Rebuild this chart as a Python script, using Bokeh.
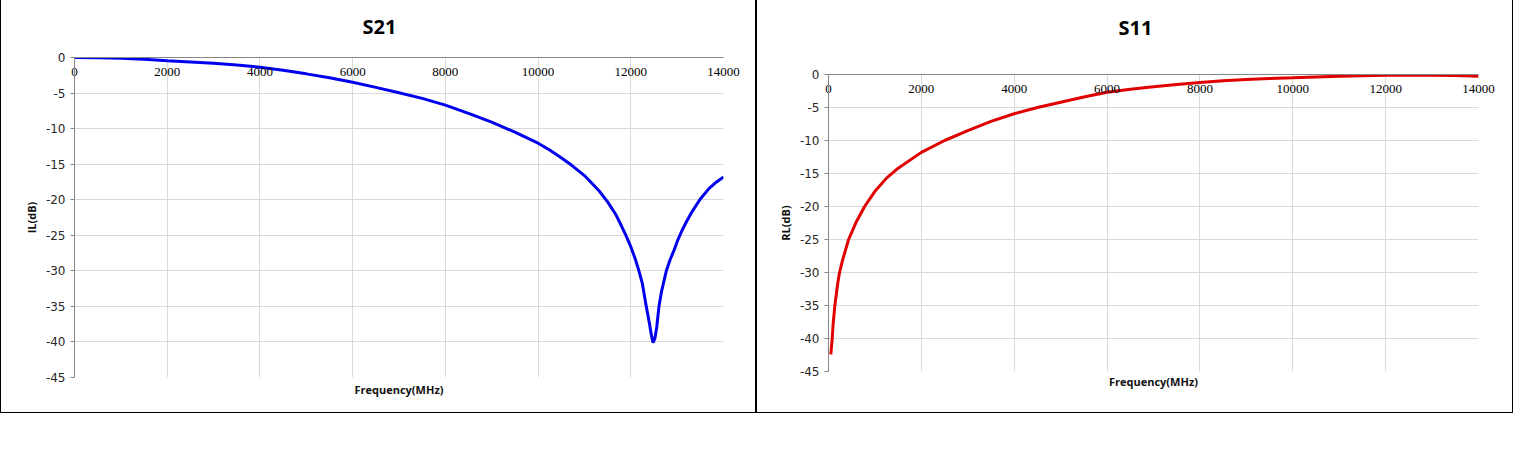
from bokeh.plotting import figure
from bokeh.models import Range1d, LinearAxis, FixedTicker
from bokeh.embed import file_html
from bokeh.resources import INLINE

# ---- data ----
s21_freq = [0, 500, 1000, 1500, 2000, 2500, 3000, 3500, 4000, 4500, 5000, 5500,
            6000, 6500, 7000, 7500, 8000, 8500, 9000, 9500, 10000, 10250, 10500,
            10733, 11000, 11310, 11500, 11670, 11800, 11900, 12000, 12100, 12176,
            12250, 12334, 12400, 12440, 12480, 12520, 12560, 12608, 12660, 12720,
            12767, 12850, 12933, 13006, 13100, 13200, 13330, 13500, 13690, 13850, 14000]
s21_db = [0, -0.03, -0.1, -0.25, -0.45, -0.62, -0.82, -1.07, -1.36, -1.8, -2.3, -2.85,
          -3.47, -4.2, -4.95, -5.75, -6.7, -7.85, -9.1, -10.5, -12.05, -13.0, -14.1,
          -15.2, -16.6, -18.7, -20.3, -22.0, -23.7, -25.1, -26.6, -28.4, -30.0,
          -31.8, -35.0, -37.3, -38.9, -40.1, -39.5, -37.9, -35.0, -33.0, -31.3,
          -30.0, -28.4, -27.1, -25.8, -24.4, -23.1, -21.6, -19.9, -18.4, -17.5, -16.8]

s11_freq = [50, 80, 100, 137, 200, 238, 300, 433, 600, 778, 1000, 1250, 1500, 2000,
            2500, 3000, 3500, 4000, 4500, 5000, 5500, 6000, 6500, 7000, 7500, 8000,
            8500, 9000, 9500, 10000, 10500, 11000, 11500, 12000, 12500, 13000, 13500, 14000]
s11_db = [-42.4, -40.0, -37.8, -35.0, -31.6, -30.0, -28.2, -25.0, -22.3, -20.0, -17.7,
          -15.7, -14.2, -11.8, -10.0, -8.5, -7.1, -5.95, -5.0, -4.2, -3.4, -2.7, -2.25,
          -1.85, -1.5, -1.2, -0.95, -0.75, -0.6, -0.5, -0.38, -0.28, -0.2, -0.12, -0.1,
          -0.12, -0.17, -0.25]

x_ticks = [0, 2000, 4000, 6000, 8000, 10000, 12000, 14000]
x_tick_labels = ["0", "2000", "4000", "6000", "8000", "10000", "12000", "14000"]
y_ticks = [0, -5, -10, -15, -20, -25, -30, -35, -40, -45]
y_tick_labels = ["0", "-5", "-10", "-15", "-20", "-25", "-30", "-35", "-40", "-45"]

GRID = "#D9D9D9"
AXIS = "#868686"
SHIFT = 40  # the top edge of each chart box lies above the window, as in the reference


def make_chart(title, ylabel, freq, vals, color, width, left_px, mb_left, mb_right,
               mb_top, mb_bottom, title_offset, title_standoff, xlabel_standoff):
    p = figure(title=title, width=width, height=413 + SHIFT, output_backend="svg",
               toolbar_location=None,
               x_range=Range1d(0, 14000), y_range=Range1d(-45, 0),
               min_border_left=mb_left, min_border_right=mb_right,
               min_border_top=mb_top + SHIFT, min_border_bottom=mb_bottom,
               background_fill_color="white", border_fill_color="white")
    p.outline_line_color = None
    p.styles = {"border": "1px solid black", "position": "absolute",
                "left": f"{left_px}px", "top": f"{-SHIFT}px"}

    # grid
    p.xgrid.ticker = FixedTicker(ticks=x_ticks)
    p.ygrid.ticker = FixedTicker(ticks=y_ticks)
    p.xgrid.grid_line_color = GRID
    p.ygrid.grid_line_color = GRID

    # bottom axis only carries the title
    xb = p.xaxis[0]
    xb.ticker = FixedTicker(ticks=[])
    xb.axis_line_color = None
    xb.major_tick_line_color = None
    xb.minor_tick_line_color = None
    xb.axis_label = "Frequency(MHz)"
    xb.axis_label_text_font = "Open Sans"
    xb.axis_label_text_font_style = "bold"
    xb.axis_label_text_font_size = "11px"
    xb.axis_label_text_color = "#111111"
    xb.axis_label_standoff = xlabel_standoff

    # top axis line at y = 0, labels drawn just under it
    xt = LinearAxis(ticker=FixedTicker(ticks=x_ticks))
    xt.major_label_overrides = {t: l for t, l in zip(x_ticks, x_tick_labels)}
    xt.axis_line_color = AXIS
    xt.major_tick_line_color = None
    xt.major_tick_out = 0
    xt.major_tick_in = 0
    xt.minor_tick_line_color = None
    xt.major_label_standoff = -18
    xt.major_label_text_font = "Liberation Serif"
    xt.major_label_text_font_size = "13px"
    xt.major_label_text_color = "black"
    p.add_layout(xt, "above")

    # y axis
    ya = p.yaxis[0]
    ya.ticker = FixedTicker(ticks=y_ticks)
    ya.major_label_overrides = {t: l for t, l in zip(y_ticks, y_tick_labels)}
    ya.axis_line_color = AXIS
    ya.major_tick_line_color = AXIS
    ya.major_tick_out = 4
    ya.major_tick_in = 0
    ya.minor_tick_line_color = None
    ya.major_label_standoff = 5
    ya.major_label_text_font = "DejaVu Sans"
    ya.major_label_text_font_size = "12px"
    ya.major_label_text_color = "#262626"
    ya.axis_label = ylabel
    ya.axis_label_text_font = "Open Sans"
    ya.axis_label_text_font_style = "bold"
    ya.axis_label_text_font_size = "11px"
    ya.axis_label_text_color = "#111111"
    ya.axis_label_standoff = 4

    t = p.title
    t.align = "left"
    t.vertical_align = "top"
    t.offset = title_offset
    t.standoff = title_standoff
    t.text_font = "Open Sans"
    t.text_font_style = "bold"
    t.text_font_size = "20px"
    t.text_color = "#000000"

    p.line(freq, vals, line_width=3, line_color=color)
    return p


p1 = make_chart("S21", "IL(dB)", s21_freq, s21_db, "#0000EE", 756, 0, 73, 34, 56, 37,
                288, 31, 4)
p2 = make_chart("S11", "RL(dB)", s11_freq, s11_db, "#E00000", 757, 756, 71, 36, 73, 43,
                290, 63, 2)

open("out.html", "w").write(file_html([p1, p2], INLINE))
